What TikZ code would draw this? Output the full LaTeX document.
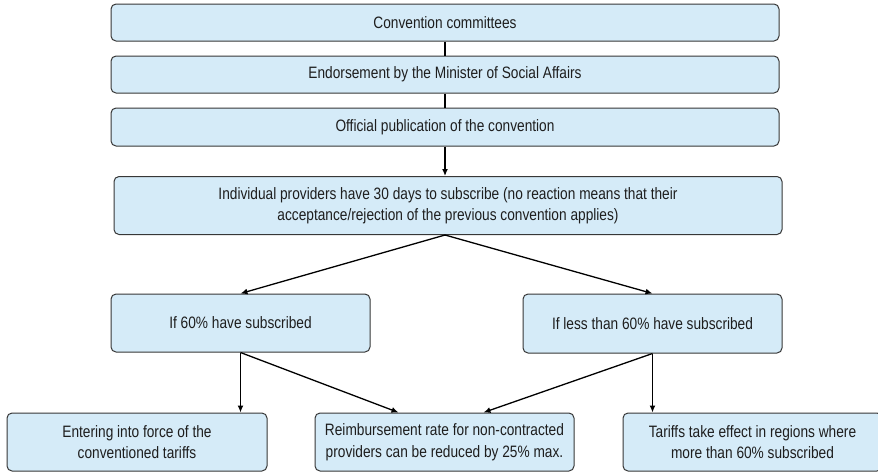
\documentclass[tikz,border=0pt]{standalone}
\usepackage{fontspec}
\setmainfont{Liberation Sans}[FakeStretch=0.83]
\usetikzlibrary{arrows.meta}
\definecolor{boxfill}{RGB}{213,235,248}
\definecolor{boxline}{RGB}{55,55,55}
\definecolor{txt}{RGB}{30,30,30}
\begin{document}
\begin{tikzpicture}[x=1pt,y=-1pt,
  box/.style={draw=boxline, fill=boxfill, line width=1pt, rounded corners=5pt,
    align=center, text=txt, inner sep=0pt,
    font=\fontsize{16.5}{21.5}\selectfont},
  link/.style={line width=1.3pt, black},
  arr/.style={link, -{Latex[length=7pt,width=6pt]}}]
\useasboundingbox (0,0) rectangle (878,472);
\clip (0,0) rectangle (878,472);
\node[box, minimum width=668pt, minimum height=37pt] (b1) at (445,22.5) {Convention committees};
\node[box, minimum width=668pt, minimum height=37pt] (b2) at (445,74.5) {Endorsement by the Minister of Social Affairs};
\node[box, minimum width=668pt, minimum height=38pt] (b3) at (445,127) {Official publication of the convention};
\node[box, minimum width=668pt, minimum height=58pt] (b4) at (448,205.5) {Individual providers have 30 days to subscribe (no reaction means that their\\acceptance/rejection of the previous convention applies)};
\node[box, minimum width=259pt, minimum height=58pt] (b5) at (240.5,323) {If 60\% have subscribed};
\node[box, minimum width=259pt, minimum height=59pt] (b6) at (652.5,323.5) {If less than 60\% have subscribed};
\node[box, minimum width=260pt, minimum height=58pt] (b7) at (137,442) {Entering into force of the\\conventioned tariffs};
\node[box, minimum width=259pt, minimum height=58pt] (b8) at (444.5,442) {Reimbursement rate for non-contracted\\providers can be reduced by 25\% max.};
\node[box, minimum width=259pt, minimum height=58pt] (b9) at (752.5,442) {Tariffs take effect in regions where\\more than 60\% subscribed};
\coordinate (s4) at (b3.south |- b4.south);
\coordinate (t8l) at ([xshift=-46pt]b8.north);
\coordinate (t8r) at ([xshift=39pt]b8.north);
\draw[link] (b1) -- (b2);
\draw[link] (b2) -- (b3);
\draw[arr] (b3.south) -- (b3.south |- b4.north);
\draw[arr] (s4) -- (b5.north);
\draw[arr] (s4) -- (b6.north);
\draw[arr] (b5.south) -- (b5.south |- b7.north);
\draw[arr] (b5.south) -- (t8l);
\draw[arr] (b6.south) -- (t8r);
\draw[arr] (b6.south) -- (b6.south |- b9.north);
\end{tikzpicture}
\end{document}
